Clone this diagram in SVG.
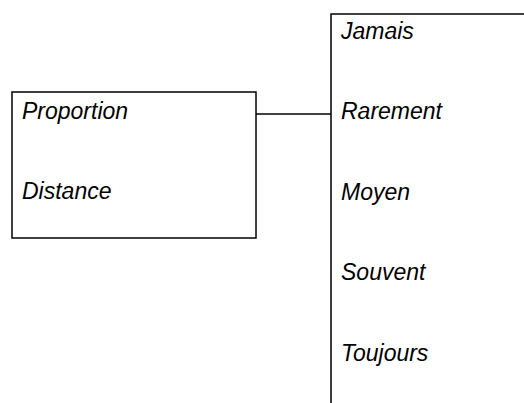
<svg xmlns="http://www.w3.org/2000/svg" width="524" height="403" viewBox="0 0 524 403">
<style>
.box{fill:#fff;stroke:#000;stroke-width:1.5}
.t{font-family:"Liberation Sans",Arial,sans-serif;font-style:italic;font-size:23px;fill:#000}
.c{stroke:#000;stroke-width:1.5;fill:none}
</style>
<rect width="524" height="403" fill="#fff"/>
<g id="connectors">
<line class="c" x1="256" y1="114" x2="331" y2="114"/>
</g>
<g id="left">
<rect class="box" x="12" y="92" width="244" height="146"/>
<text class="t" x="22" y="118.5">Proportion</text>
<text class="t" x="22" y="199">Distance</text>
</g>
<g id="right">
<path class="c" d="M331,410 V14 H530"/>
<text class="t" x="341" y="38.5">Jamais</text>
<text class="t" x="341" y="119">Rarement</text>
<text class="t" x="341" y="199.5">Moyen</text>
<text class="t" x="341" y="280">Souvent</text>
<text class="t" x="341" y="360.5">Toujours</text>
</g>
</svg>
